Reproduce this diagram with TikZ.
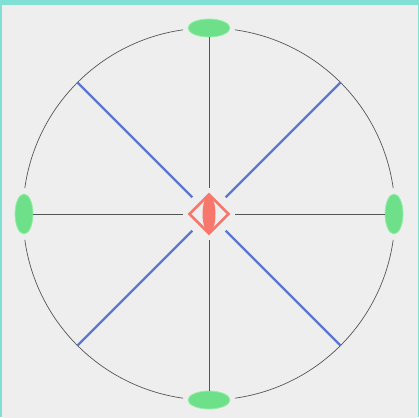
\documentclass[tikz,border=0pt]{standalone}
\usetikzlibrary{shapes.geometric}
\definecolor{frame}{HTML}{80E0D4}
\definecolor{paper}{HTML}{EEEEEE}
\definecolor{portgreen}{HTML}{6EE08A}
\definecolor{portrim}{HTML}{96EEAA}
\definecolor{hubred}{HTML}{F8776C}
\definecolor{rayblue}{HTML}{5A78D0}
\definecolor{spokegray}{HTML}{555555}

\begin{document}
\begin{tikzpicture}[x=1pt,y=-1pt,line cap=butt,
  port/.style={ellipse,fill=portgreen,draw=portrim,line width=0.8pt,inner sep=0pt},
  spoke/.style={draw=spokegray,line width=0.8pt,shorten >=5pt},
  ray/.style={draw=rayblue,line width=2.4pt,shorten >=8.5pt},
  rim/.style={draw=spokegray,line width=0.7pt}]
\useasboundingbox (0,0) rectangle (419,417);
% frame and background
\fill[frame] (0,0) rectangle (419,417);
\fill[paper] (2,5) rectangle (418,420);
\coordinate (c) at (209,214);
% outer ring
\foreach \a in {0,90,180,270}
  \draw[rim] (c) ++(\a+8:186) arc[start angle=\a+8,end angle=\a+82,radius=186];
% hub
\node[diamond,draw=hubred,line width=2.6pt,fill=paper,minimum size=40pt,inner sep=0pt] (hub) at (c) {};
\node[ellipse,fill=hubred,minimum width=13pt,minimum height=36pt,inner sep=0pt] (core) at (c) {};
% ports
\node[port,minimum width=42pt,minimum height=18pt] (n) at (209,28) {};
\node[port,minimum width=42pt,minimum height=18pt] (s) at (209,400) {};
\node[port,minimum width=18pt,minimum height=40pt] (w) at (24,214) {};
\node[port,minimum width=18pt,minimum height=40pt] (e) at (394,214) {};
% spokes
\foreach \p in {n,s,w,e}
  \draw[spoke] (\p) -- (hub);
\foreach \a in {45,135,225,315}{
  \path (c) ++(\a:186) coordinate (r\a);
  \draw[ray] (r\a) -- (hub);
}
\end{tikzpicture}
\end{document}
